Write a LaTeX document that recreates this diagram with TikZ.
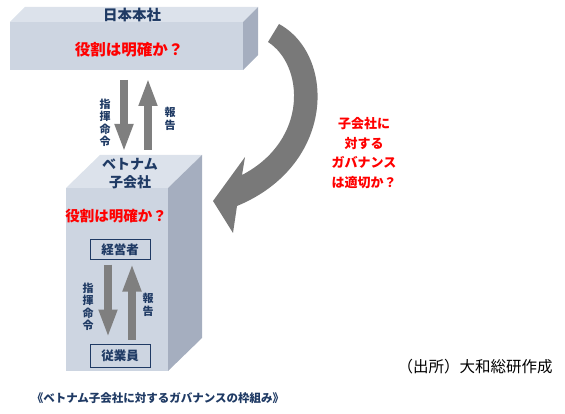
\documentclass[tikz,border=0pt]{standalone}
\usepackage{fontspec}
\newfontfamily\jp{Noto Sans CJK JP}
\usetikzlibrary{arrows.meta}
\definecolor{navy}{HTML}{1F3A64}
\definecolor{frontc}{HTML}{CDD5E1}
\definecolor{topc}{HTML}{DCE2EB}
\definecolor{sidec}{HTML}{A5AEBF}
\definecolor{arrc}{HTML}{7F7F7F}
\definecolor{jred}{HTML}{FF0000}
\begin{document}
\begin{tikzpicture}[x=1pt,y=-1pt,
  frontface/.style={draw=none, fill=frontc, inner sep=0, outer sep=0, anchor=north west},
  lbl/.style={text=navy, inner sep=0, font=\jp\bfseries\fontsize{14.5}{16}\selectfont},
  qred/.style={text=jred, inner sep=0, font=\jp\bfseries\fontsize{15.5}{17}\selectfont},
  vtext/.style={text=navy, inner sep=0, align=center, font=\jp\bfseries\fontsize{11}{12.5}\selectfont},
  role/.style={draw=navy, line width=1pt, fill=frontc, minimum width=60pt, minimum height=20pt, inner sep=0, text=navy, font=\jp\bfseries\fontsize{12.5}{14}\selectfont},
  fat/.style={draw=arrc, line width=8.5pt, -{Triangle[length=28pt,width=17pt]}}]
\useasboundingbox (0,0) rectangle (565,414);

% Head office box
\node[frontface, minimum width=233pt, minimum height=48pt] (hq) at (10,22) {};
\fill[topc] (hq.north west) -- ++(15,-15) -- ([shift={(15,-15)}]hq.north east) -- (hq.north east) -- cycle;
\fill[sidec] (hq.north east) -- ++(15,-15) -- ([shift={(15,-15)}]hq.south east) -- (hq.south east) -- cycle;
\node[lbl] (hqname) at (132,15) {日本本社};
\node[qred] (hqq) at (129,50) {役割は明確か？};

% Vietnam subsidiary box
\node[frontface, minimum width=102pt, minimum height=183pt] (vn) at (66,188) {};
\fill[topc] (vn.north west) -- ++(34,-33) -- ([shift={(34,-33)}]vn.north east) -- (vn.north east) -- cycle;
\fill[sidec] (vn.north east) -- ++(34,-33) -- ([shift={(34,-33)}]vn.south east) -- (vn.south east) -- cycle;
\node[lbl, align=center, font=\jp\bfseries\fontsize{14}{18}\selectfont] (vnname) at (130,174) {ベトナム\\子会社};
\node[qred, font=\jp\bfseries\fontsize{14.5}{17}\selectfont] (vnq) at (116,216) {役割は明確か？};

% arrows between head office and subsidiary
\coordinate (a1s) at ([shift={(114,10)}]hq.south west);
\coordinate (a1e) at (124,152);
\coordinate (a2s) at (148,150);
\coordinate (a2e) at ([shift={(138,8)}]hq.south west);
\draw[fat] (a1s) -- (a1e);
\draw[fat] (a2s) -- (a2e);
\node[vtext] (cmd1) at (105,123) {指\\揮\\命\\令};
\node[vtext] (rep1) at (170,119) {報\\告};

% inside subsidiary
\node[role] (mgr) at (120,250) {経営者};
\node[role, minimum height=23pt] (emp) at (120,355.5) {従業員};
\draw[fat] ([shift={(-12,4)}]mgr.south) -- ([shift={(-12,-6)}]emp.north);
\draw[fat] ([shift={(12,-4)}]emp.north) -- ([shift={(12,3)}]mgr.south);
\node[vtext] (cmd2) at (88,307) {指\\揮\\命\\令};
\node[vtext] (rep2) at (148,305) {報\\告};

% curved governance arrow
\fill[arrc!95!black] (279,24) .. controls (336,55) and (336,165) .. (237,206)
  -- (233,233) -- (213,201) -- (245,157) -- (242,175)
  .. controls (309,140) and (304,65) .. (268,42) -- cycle;
\node[text=jred, inner sep=0, align=center, font=\jp\bfseries\fontsize{13}{19.5}\selectfont] (gov) at (364,153) {子会社に\\対する\\ガバナンス\\は適切か？};

% captions
\node[inner sep=0, text=black, font=\jp\fontsize{15.5}{17}\selectfont] (src) at (475,367) {（出所）大和総研作成};
\node[inner sep=0, text=navy, font=\jp\bfseries\fontsize{11.5}{14}\selectfont] (cap) at (158,398) {《ベトナム子会社に対するガバナンスの枠組み》};
\end{tikzpicture}
\end{document}
